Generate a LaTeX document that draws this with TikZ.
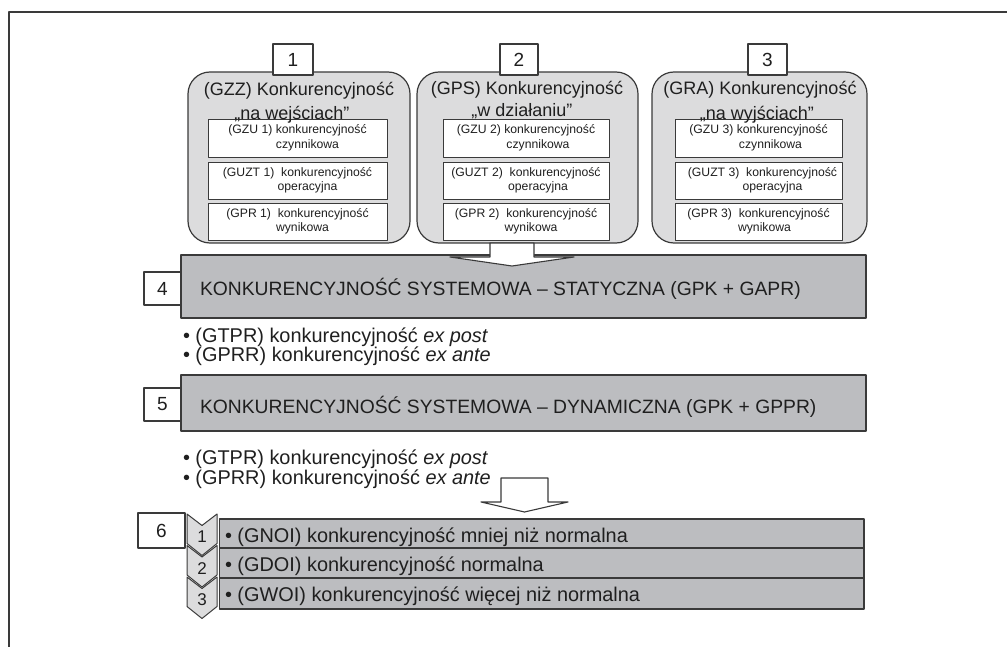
\documentclass[tikz,border=0pt]{standalone}
\usepackage{fontspec}
\setmainfont{Liberation Sans}
\usetikzlibrary{calc}
\definecolor{linec}{HTML}{3A3A3A}
\definecolor{panelgray}{HTML}{DCDCDD}
\definecolor{bandgray}{HTML}{BCBDC0}

\begin{document}
\begin{tikzpicture}[x=1pt, y=-1pt, line join=round,
  every node/.style={inner sep=0pt, outer sep=0pt, text=black!88},
  frameline/.style={draw=linec, line width=1.2pt},
  panel/.style={draw=linec, line width=1.2pt, fill=panelgray, rounded corners=22pt, anchor=north west},
  numbox/.style={draw=linec, line width=1.1pt, fill=white, anchor=north west, font=\fontsize{19}{19}\selectfont},
  cell/.style={draw=linec, line width=0.9pt, fill=white, anchor=north west, align=center, font=\fontsize{12.2}{14.5}\selectfont},
  title/.style={anchor=base, font=\fontsize{18}{18}\selectfont},
  band/.style={draw=linec, line width=1.2pt, fill=bandgray, anchor=north west},
  bandtext/.style={anchor=base west, font=\fontsize{19.3}{20}\selectfont},
  bullettext/.style={anchor=base west, font=\fontsize{19.9}{20}\selectfont},
  blockarrow/.style={draw=linec, line width=1.1pt, fill=white},
  chev/.style={draw=linec, line width=1pt, fill=panelgray},
  chevnum/.style={font=\fontsize{17}{17}\selectfont}
]
\useasboundingbox (0,0) rectangle (1007,647);

% open frame: top and left edges only
\draw[frameline] (9,648) -- (9,12) -- (1008,12);

% three rounded panels
\node[panel, minimum width=222pt, minimum height=171pt] (P1) at (188,72) {};
\node[panel, minimum width=221pt, minimum height=171pt] (P2) at (417,72) {};
\node[panel, minimum width=215pt, minimum height=171pt] (P3) at (652,72) {};

% numbered tabs on the panels
\node[numbox, minimum width=40pt, minimum height=31pt] (L1) at (273,44) {1};
\node[numbox, minimum width=38pt, minimum height=31pt] (L2) at (500,44) {2};
\node[numbox, minimum width=39pt, minimum height=31pt] (L3) at (748,44) {3};

% inner cells, panel 1
\node[cell, minimum width=179pt, minimum height=38pt] (A1) at (208,119) {(GZU 1) konkurencyjność\\\hspace*{20pt}czynnikowa};
\node[cell, minimum width=179pt, minimum height=37pt] (A2) at (208,162) {(GUZT 1)\ \ konkurencyjność\\\hspace*{20pt}operacyjna};
\node[cell, minimum width=179pt, minimum height=37pt] (A3) at (208,203) {(GPR 1)\ \ konkurencyjność\\\hspace*{10pt}wynikowa};
% inner cells, panel 2
\node[cell, minimum width=166pt, minimum height=38pt] (B1) at (443,119) {(GZU 2) konkurencyjność\\\hspace*{24pt}czynnikowa};
\node[cell, minimum width=166pt, minimum height=37pt] (B2) at (443,162) {(GUZT 2)\ \ konkurencyjność\\\hspace*{24pt}operacyjna};
\node[cell, minimum width=166pt, minimum height=37pt] (B3) at (443,203) {(GPR 2)\ \ konkurencyjność\\\hspace*{10pt}wynikowa};
% inner cells, panel 3
\node[cell, minimum width=167pt, minimum height=38pt] (C1) at (675,119) {(GZU 3) konkurencyjność\\\hspace*{24pt}czynnikowa};
\node[cell, minimum width=167pt, minimum height=37pt] (C2) at (675,162) {\hspace*{8pt}(GUZT 3)\ \ konkurencyjność\\\hspace*{28pt}operacyjna};
\node[cell, minimum width=167pt, minimum height=37pt] (C3) at (675,203) {(GPR 3)\ \ konkurencyjność\\\hspace*{12pt}wynikowa};

% panel titles
\node[title] (T1a) at (299,96) {(GZZ) Konkurencyjność};
\node[title] (T1b) at (292,120) {„na wejściach”};
\node[title] (T2a) at (527,95) {(GPS) Konkurencyjność};
\node[title] (T2b) at (522,117) {„w działaniu”};
\node[title] (T3a) at (760,95) {(GRA) Konkurencyjność};
\node[title] (T3b) at (757,120) {„na wyjściach”};

% level 4: static systemic competitiveness
\node[band, minimum width=685pt, minimum height=63pt] (S4) at (181,255) {};
\node[numbox, minimum width=37pt, minimum height=33pt] (N4) at (144,272) {4};
\node[bandtext] (S4t) at (200,295) {KONKURENCYJNOŚĆ SYSTEMOWA – STATYCZNA (GPK + GAPR)};

% block arrow from panel 2 down onto level 4
\draw[blockarrow] ($(P2.south)+(-37.5,0)$) -- (490,257) -- (450,257) -- (512,266)
  -- (574,257) -- (534,257) -- ($(P2.south)+(6.5,0)$) -- cycle;

\node[bullettext] (b4a) at (183,342) {• (GTPR) konkurencyjność \textit{ex post}};
\node[bullettext] (b4b) at (183,361) {• (GPRR) konkurencyjność \textit{ex ante}};

% level 5: dynamic systemic competitiveness
\node[band, minimum width=685pt, minimum height=56pt] (S5) at (181,375) {};
\node[numbox, minimum width=37pt, minimum height=33pt] (N5) at (144,388) {5};
\node[bandtext] (S5t) at (200,413) {KONKURENCYJNOŚĆ SYSTEMOWA – DYNAMICZNA (GPK + GPPR)};

\node[bullettext] (b5a) at (183,464) {• (GTPR) konkurencyjność \textit{ex post}};
\node[bullettext] (b5b) at (183,484) {• (GPRR) konkurencyjność \textit{ex ante}};

% level 6: three graded rows
\node[band, minimum width=644.5pt, minimum height=29pt] (R1) at (219.5,519) {};
\node[band, minimum width=644.5pt, minimum height=30pt] (R2) at (219.5,548) {};
\node[band, minimum width=644.5pt, minimum height=31pt] (R3) at (219.5,578) {};
\node[bullettext] (R1t) at (225,542) {• (GNOI) konkurencyjność mniej niż normalna};
\node[bullettext] (R2t) at (225,571) {• (GDOI) konkurencyjność normalna};
\node[bullettext] (R3t) at (225,601) {• (GWOI) konkurencyjność więcej niż normalna};
\node[numbox, minimum width=47pt, minimum height=35pt] (N6) at (138,513) {6};

% chevrons with the row numbers
\foreach \k/\y in {1/514, 2/545.5, 3/577} {
  \draw[chev] (187,\y) -- (202,\y+11.5) -- (217,\y) -- (217,\y+29.5)
    -- (202,\y+41.5) -- (187,\y+29.5) -- cycle;
  \node[chevnum] (ch\k) at (202,\y+23) {\k};
}

% block arrow from the level-5 bullets down to the rows
\draw[blockarrow] (501,478) -- (548,478) -- (548,502) -- (568,502) -- (524.5,512)
  -- (481,502) -- (501,502) -- cycle;
\end{tikzpicture}
\end{document}
